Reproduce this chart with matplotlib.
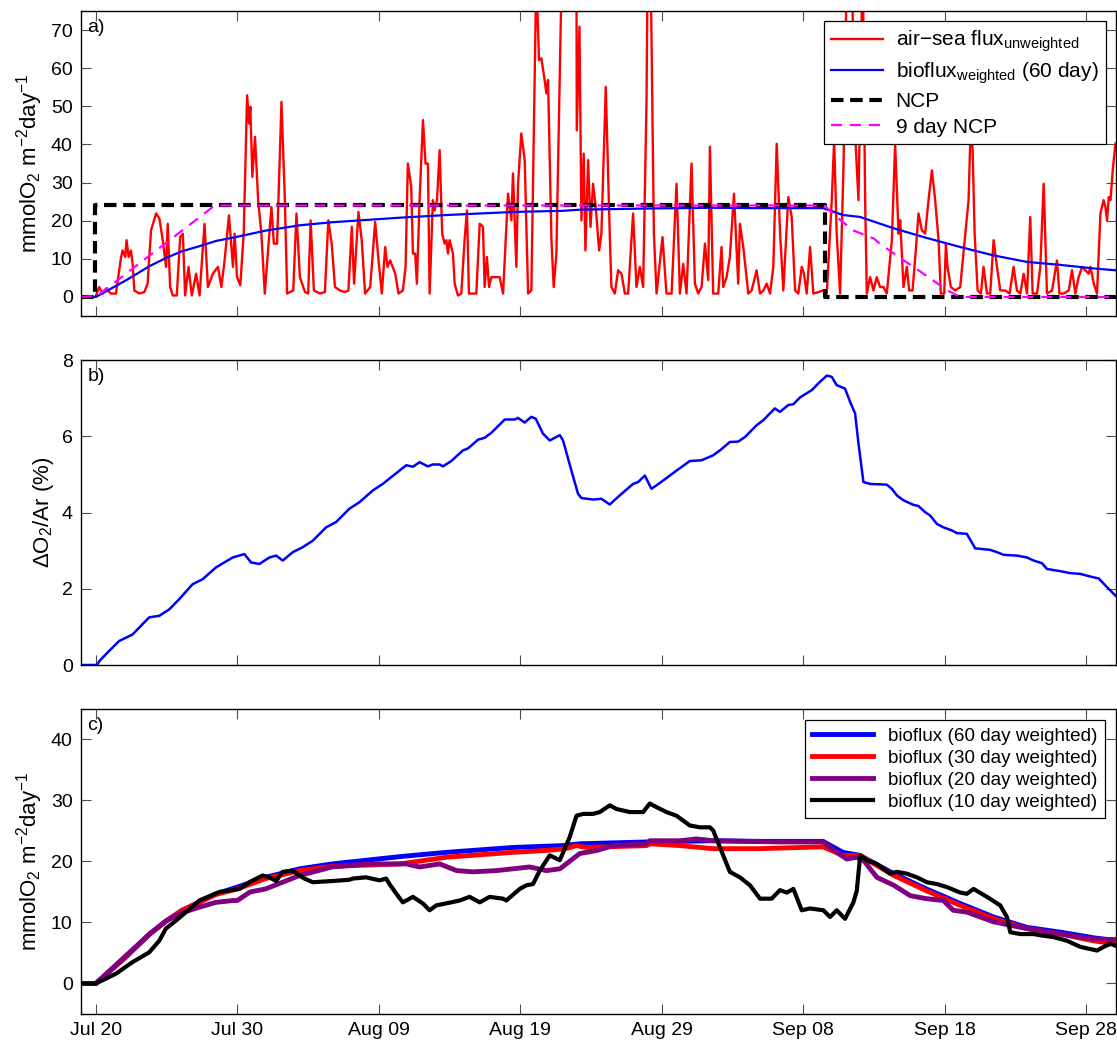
import numpy as np
import matplotlib
matplotlib.use('Agg')
import matplotlib.pyplot as plt

plt.rcParams['font.family'] = ['Liberation Sans', 'DejaVu Sans']
plt.rcParams['mathtext.fontset'] = 'custom'
plt.rcParams['mathtext.rm'] = 'Liberation Sans'
plt.rcParams['mathtext.it'] = 'Liberation Sans:italic'
plt.rcParams['mathtext.default'] = 'regular'
plt.rcParams['axes.unicode_minus'] = True

# days since Jul 20
tick_days = [0, 10, 20, 30, 40, 50, 60, 70]
tick_labels = ['Jul 20', 'Jul 30', 'Aug 09', 'Aug 19', 'Aug 29', 'Sep 08', 'Sep 18', 'Sep 28']
x_start, x_end = -1.05, 72.1

# a) air-sea flux (unweighted)
flux_day = [0.0, 0.24, 0.47, 0.71, 1.06, 1.42, 1.77, 1.89, 2.08, 2.17, 2.32, 2.48, 2.60, 2.72,
            3.07, 3.43, 3.66, 3.90, 4.26, 4.49, 4.73, 4.96, 5.08, 5.25, 5.44, 5.72, 5.96, 6.15,
            6.31, 6.55, 6.78, 7.09, 7.33, 7.68, 7.92, 8.27, 8.63, 8.87, 9.10, 9.41, 9.69, 9.81,
            9.98, 10.21, 10.45, 10.69, 10.83, 10.92, 11.06, 11.25, 11.47, 11.70, 11.94, 12.17,
            12.41, 12.58, 12.81, 13.12, 13.36, 13.52, 13.95, 14.18, 14.42, 14.78, 15.01, 15.18,
            15.41, 15.84, 16.19, 16.43, 16.67, 16.90, 17.26, 17.61, 17.85, 18.09, 18.25, 18.56,
            18.79, 19.03, 19.39, 19.74, 19.98, 20.21, 20.45, 20.61, 20.80, 21.16, 21.39,
            21.70, 21.89, 22.05, 22.29, 22.41, 22.57, 22.69, 22.88, 23.12, 23.30, 23.47, 23.59,
            23.82, 23.94, 24.11, 24.30, 24.48, 24.65, 24.77, 24.89, 25.00, 25.24, 25.36, 25.59,
            25.83, 26.06, 26.23, 26.37, 26.89, 27.13, 27.36, 27.48, 27.64, 27.79, 27.95, 28.19,
            28.54, 28.78, 29.13, 29.37, 29.48, 29.72, 29.84, 30.07, 30.31, 30.55, 30.78, 31.13,
            31.32, 31.49, 31.72, 31.84, 31.96, 32.20, 32.36, 32.55, 32.95, 33.49, 33.97, 33.99,
            34.18, 34.32, 34.48, 34.60, 34.79, 34.96, 35.14, 35.33, 35.57, 35.73, 36.04, 36.32,
            36.44, 36.68, 36.91, 37.15, 37.39, 37.62, 37.97, 38.21, 38.45, 38.68, 38.92, 38.99,
            39.20, 39.44, 39.63, 40.05, 40.33, 40.69, 41.04, 41.28, 41.51, 41.75, 42.10, 42.34,
            42.57, 42.81, 43.05, 43.28, 43.40, 43.63, 43.99, 44.22, 44.34, 44.58, 44.81, 44.93,
            45.10, 45.40, 45.52, 45.76, 46.11, 46.35, 46.70, 46.94, 47.18, 47.41, 47.65, 47.88,
            48.12, 48.36, 48.59, 48.94, 49.18, 49.42, 49.65, 49.89, 50.05, 50.24, 50.48, 50.71,
            51.07, 51.42, 51.66, 52.01, 52.18, 52.36, 52.60, 52.84, 53.12, 53.43, 53.66, 53.90,
            54.02, 54.20, 54.37, 54.49, 54.72, 54.96, 55.19, 55.43, 55.67, 55.90, 56.26, 56.49,
            56.73, 56.85, 57.08, 57.32, 57.48, 57.72, 57.95, 58.14, 58.38, 58.61, 58.85, 59.09,
            59.32, 59.56, 59.72, 59.96, 60.08, 60.19, 60.43, 60.74, 61.09, 61.45, 61.68, 61.80,
            61.96, 62.11, 62.32, 62.55, 62.74, 62.98, 63.21, 63.45, 63.69, 63.92, 64.28, 64.58,
            64.86, 65.10, 65.34, 65.57, 65.81, 66.04, 66.21, 66.52, 66.75, 66.99, 67.22, 67.58,
            67.93, 68.10, 68.40, 68.76, 68.99, 69.23, 69.46, 69.70, 69.94, 70.17, 70.29, 70.53,
            70.76, 71.00, 71.23, 71.35, 71.47, 71.59, 71.71, 71.89, 72.06]
flux_val = [0.3, 2.6, 0.9, 2.2, 0.9, 0.9, 10.1, 12.2, 10.5, 14.9, 10.5, 12.2, 8.7, 1.7,
            0.9, 1.3, 3.5, 17.5, 21.9, 20.6, 14.9, 7.9, 19.2, 2.6, 0.4, 0.4, 15.7, 16.6,
            0.4, 7.9, 0.4, 6.1, 0.4, 19.2, 2.6, 6.1, 7.9, 2.6, 9.6, 21.4, 7.9, 16.6,
            5.2, 3.1, 16.6, 52.9, 45.5, 49.9, 31.5, 42.0, 25.4, 16.6, 0.9, 12.2,
            23.6, 14.0, 14.0, 51.2, 25.4, 0.9, 1.7, 21.9, 5.2, 1.3, 0.9, 20.1,
            1.7, 0.9, 1.3, 20.1, 14.0, 2.6, 1.7, 1.3, 1.7, 18.4, 3.5, 22.3,
            14.9, 0.9, 2.6, 19.7, 9.6, 0.9, 13.1, 7.9, 9.6, 6.1, 0.9,
            1.7, 7.9, 35.0, 28.9, 11.4, 11.4, 3.5, 25.4, 46.4, 35.0, 35.0, 0.9,
            25.4, 22.7, 25.4, 38.5, 16.6, 14.0, 14.9, 11.4, 14.9, 11.4, 3.5, 0.4,
            0.9, 14.9, 22.7, 0.9, 0.9, 19.2, 18.4, 2.6, 10.5, 2.6, 5.2, 5.2,
            5.2, 0.9, 27.1, 20.1, 32.4, 7.9, 29.7, 42.9, 35.9, 0.9, 1.7, 85.0,
            62.1, 62.6, 56.9, 53.4, 56.9, 14.9, 2.6, 11.4, 90.0, 100.0, 85.0, 43.7,
            70.9, 20.1, 37.6, 12.2, 35.9, 18.4, 29.7, 23.6, 12.2, 16.6, 55.1, 16.6,
            2.6, 0.9, 7.0, 6.1, 0.9, 0.9, 21.9, 2.6, 7.9, 2.6, 51.6, 85.0,
            90.0, 16.6, 0.9, 15.7, 0.9, 0.9, 29.7, 0.9, 8.7, 0.9, 35.0, 3.5,
            0.9, 2.6, 14.0, 4.4, 39.4, 0.9, 0.9, 13.1, 2.6, 5.2, 10.5, 17.5,
            27.1, 3.5, 19.2, 13.1, 0.9, 1.7, 7.0, 0.9, 1.7, 3.5, 0.9, 7.9,
            40.2, 16.6, 1.7, 26.2, 21.0, 1.7, 0.9, 7.9, 6.1, 0.9, 13.1, 0.9,
            1.3, 1.7, 0.9, 25.4, 41.1, 16.6, 0.9, 34.1, 95.0, 85.0, 42.9, 25.4,
            51.6, 90.0, 25.4, 0.9, 5.2, 1.7, 5.2, 2.6, 2.6, 0.9, 14.9, 40.2,
            16.6, 20.1, 2.6, 7.9, 1.7, 1.7, 12.2, 21.9, 17.5, 16.6, 25.4, 33.2,
            25.4, 14.9, 0.9, 0.9, 14.0, 7.9, 2.6, 1.7, 2.6, 16.6, 25.4, 41.1,
            39.4, 16.6, 1.7, 0.9, 7.9, 0.9, 0.9, 14.9, 7.9, 1.7, 1.7, 0.9,
            7.9, 1.7, 0.9, 6.1, 0.9, 21.0, 0.9, 0.9, 7.9, 29.7, 0.9, 1.7,
            9.6, 0.9, 0.9, 1.7, 7.0, 0.9, 5.2, 7.9, 7.0, 6.1, 7.9, 3.5,
            0.9, 21.9, 25.4, 23.6, 20.1, 26.2, 25.4, 34.1, 40.2]

# bioflux, 60 day weighting (used in a and c)
bio60_day = [-1.05, 0.0, 2.1, 3.8, 5.0, 6.1, 7.3, 8.5, 10.0, 12.0, 14.4, 16.7, 19.1, 21.5,
             24.8, 29.5, 33.0, 34.2, 38.9, 43.6, 46.9, 51.4, 52.8, 54.0, 56.4, 58.7, 61.1,
             63.45, 65.8, 68.2, 70.5, 72.06]
bio60_val = [0, 0, 4.3, 8.1, 10.3, 12.0, 13.3, 14.7, 15.8, 17.4, 18.8, 19.6, 20.2, 20.8,
             21.5, 22.3, 22.6, 22.9, 23.2, 23.4, 23.3, 23.3, 21.5, 21.0, 18.0, 15.5, 13.1,
             10.9, 9.2, 8.4, 7.5, 7.0]

# NCP step and 9 day running NCP
ncp_day = [x_start, -0.07, -0.07, 51.54, 51.54, x_end]
ncp_val = [0, 0, 24, 24, 0, 0]
ncp9_day = [x_start, 0.1, 8.4, 51.5, 52.2, 53.5, 55.0, 55.4, 57.1, 58.3, 60.2, 61.1, x_end]
ncp9_val = [0, 0.3, 24, 24, 21.5, 17.5, 15.3, 14.0, 9.6, 6.6, 1.7, 0, 0]

# b) delta O2/Ar
o2ar_day = [x_start, 0.1, 0.24, 0.94, 1.65, 2.59, 3.77, 4.48, 5.19, 5.9, 6.84, 7.55, 8.49, 9.67,
            10.5, 10.97, 11.56, 12.26, 12.74, 13.21, 13.92, 14.62, 15.33, 16.27, 16.98, 17.92,
            18.63, 19.58, 20.28, 21.46, 21.94, 22.41, 22.88, 23.47, 23.82, 24.3, 24.53, 25.12,
            25.95, 26.3, 27.01, 27.48, 27.95, 28.9, 29.6, 29.84, 30.31, 30.78, 31.09, 31.6,
            32.08, 32.79, 33.02, 33.61, 34.08, 34.32, 35.14, 35.73, 36.32, 37.03, 37.97, 38.33,
            38.8, 39.27, 40.1, 41.04, 41.98, 42.81, 43.63, 44.11, 44.81, 45.4, 45.88, 46.7,
            47.17, 47.99, 48.35, 48.94, 49.3, 49.77, 50.6, 51.07, 51.66, 52.01, 52.36, 52.95,
            53.31, 53.66, 53.9, 54.25, 54.72, 55.9, 56.26, 56.61, 57.08, 57.79, 58.14, 58.61,
            58.97, 59.44, 59.91, 60.5, 60.85, 61.56, 62.15, 63.21, 63.69, 64.16, 65.1, 65.81,
            66.28, 66.87, 67.22, 68.17, 68.87, 69.58, 70.29, 70.88, 71.47, 72.06]
o2ar_val = [0, 0, 0.1, 0.37, 0.63, 0.8, 1.25, 1.29, 1.46, 1.73, 2.12, 2.25, 2.56, 2.82,
            2.91, 2.69, 2.65, 2.82, 2.87, 2.74, 2.96, 3.09, 3.26, 3.61, 3.75, 4.10,
            4.27, 4.58, 4.75, 5.1, 5.24, 5.2, 5.32, 5.21, 5.26, 5.26, 5.21, 5.35,
            5.63, 5.68, 5.91, 5.96, 6.09, 6.44, 6.44, 6.48, 6.36, 6.51, 6.46, 6.07,
            5.89, 6.03, 5.89, 5.1, 4.49, 4.38, 4.34, 4.36, 4.21, 4.45, 4.75, 4.80,
            4.97, 4.62, 4.84, 5.1, 5.35, 5.37, 5.5, 5.63, 5.85, 5.86, 5.98, 6.29,
            6.42, 6.73, 6.64, 6.82, 6.84, 7.02, 7.21, 7.39, 7.59, 7.56, 7.34, 7.25,
            6.9, 6.6, 5.81, 4.80, 4.75, 4.73, 4.62, 4.45, 4.32, 4.20, 4.17, 4.01,
            3.92, 3.70, 3.61, 3.53, 3.46, 3.44, 3.06, 3.02, 2.96, 2.89, 2.87, 2.82,
            2.74, 2.67, 2.52, 2.46, 2.41, 2.39, 2.32, 2.27, 2.04, 1.82]

# c) bioflux with 30, 20 and 10 day weighting
bio30_day = [x_start, 0.0, 2.1, 3.8, 5.0, 6.1, 7.3, 8.5, 10.0, 12.0, 14.4, 16.7, 19.1, 21.5,
             24.8, 29.5, 31.8, 33.2, 33.95, 34.7, 38.9, 39.2, 41.3, 43.6, 46.9, 51.4, 52.8,
             54.0, 56.4, 58.7, 61.1, 63.45, 65.8, 68.2, 70.5, 72.06]
bio30_val = [0, 0, 4.3, 8.1, 10.3, 12.0, 13.3, 14.6, 15.5, 17.2, 18.5, 19.2, 19.4, 19.6,
             20.7, 21.5, 21.8, 22.1, 22.6, 22.3, 22.6, 22.9, 22.6, 22.1, 22.1, 22.4, 21.0,
             21.0, 17.7, 15.2, 12.8, 10.6, 9.0, 8.1, 7.0, 6.5]

bio20_day = [x_start, 0.0, 2.1, 3.8, 5.0, 6.1, 7.3, 8.5, 9.7, 10.0, 10.9, 12.0, 13.2, 14.4,
             16.7, 19.1, 21.46, 21.94, 22.88, 24.3, 25.5, 26.65, 28.3, 30.66, 31.84, 32.8,
             34.2, 35.4, 36.56, 38.9, 39.15, 41.3, 42.45, 43.6, 48.35, 51.42, 52.36, 53.07,
             53.78, 54.25, 55.2, 56.4, 57.55, 58.7, 59.9, 60.6, 61.56, 63.45, 65.8, 68.2,
             70.5, 72.06]
bio20_val = [0, 0, 4.5, 8.1, 10.3, 11.6, 12.5, 13.3, 13.6, 13.6, 15.0, 15.5, 16.6, 17.7,
             19.1, 19.6, 19.6, 19.6, 19.1, 19.6, 18.5, 18.3, 18.5, 19.1, 18.5, 18.8,
             21.3, 21.8, 22.6, 22.9, 23.4, 23.4, 23.7, 23.4, 23.2, 23.2, 21.5, 20.4,
             20.7, 20.2, 17.4, 16.1, 14.4, 13.9, 13.6, 12.0, 11.7, 10.1, 9.0, 8.1,
             7.3, 7.2]

bio10_day = [x_start, 0.0, 1.42, 2.59, 3.77, 4.48, 4.95, 5.66, 6.37, 7.31, 8.73, 10.14, 10.85,
             11.79, 12.26, 12.74, 13.21, 13.92, 14.39, 14.74, 15.33, 16.75, 17.92, 18.16, 19.1,
             20.05, 20.52, 20.75, 21.46, 21.7, 22.41, 23.12, 23.59, 24.06, 25.12, 25.71, 26.42,
             27.13, 27.83, 28.78, 29.01, 29.96, 30.43, 30.9, 31.37, 32.08, 32.79, 33.49, 33.97,
             34.44, 35.14, 35.62, 36.32, 36.8, 37.74, 38.68, 39.15, 39.63, 40.33, 41.04, 41.98,
             42.69, 43.4, 43.63, 44.11, 44.81, 45.52, 46.23, 46.94, 47.76, 48.35, 48.83, 49.3,
             49.89, 50.48, 51.42, 51.89, 52.36, 52.95, 53.54, 53.78, 54.02, 54.49, 55.19, 56.14,
             56.61, 57.32, 58.03, 58.73, 59.44, 60.15, 61.09, 61.56, 62.03, 62.98, 63.92, 64.39,
             64.63, 65.34, 66.28, 66.75, 67.69, 68.64, 69.58, 70.76, 71.23, 71.71, 72.06]
bio10_val = [0, 0, 1.6, 3.5, 5.1, 7.0, 9.0, 10.3, 11.7, 13.6, 15.0, 15.5, 16.6,
             17.7, 17.4, 16.8, 18.3, 18.5, 17.7, 17.2, 16.6, 16.8, 17.0, 17.2, 17.4,
             16.9, 17.2, 16.3, 14.0, 13.3, 14.2, 13.1, 12.0, 12.8, 13.3, 13.6, 14.2,
             13.3, 14.2, 13.9, 13.6, 15.5, 16.1, 16.3, 18.5, 21.0, 20.2, 24.0, 27.5,
             27.8, 27.8, 28.1, 29.2, 28.6, 28.1, 28.1, 29.5, 28.9, 28.1, 27.5, 25.9,
             25.6, 25.6, 25.1, 22.3, 18.3, 17.4, 16.1, 13.9, 13.9, 15.3, 14.9, 15.5,
             12.0, 12.3, 12.0, 10.9, 12.0, 10.6, 13.3, 15.2, 21.0, 20.2, 19.6, 18.0,
             18.3, 18.0, 17.4, 16.6, 16.3, 15.8, 14.9, 14.7, 15.5, 14.2, 12.8, 10.9,
             8.4, 8.1, 8.1, 7.9, 7.6, 7.0, 6.0, 5.4, 6.0, 6.5, 6.2]

fig = plt.figure(figsize=(11.17, 10.42), dpi=100)
left, width, height = 0.0725, 0.9266, 0.2927
ax_a = fig.add_axes([left, 0.6967, width, height])
ax_b = fig.add_axes([left, 0.3618, width, height])
ax_c = fig.add_axes([left, 0.0269, width, height])

ylab = 'mmolO$_2$ m$^{-2}$day$^{-1}$'

for ax in (ax_a, ax_b, ax_c):
    ax.set_xlim(x_start, x_end)
    ax.set_xticks(tick_days)
    ax.tick_params(direction='in', length=7, width=0.8, color='0.3', labelsize=14,
                   top=True, right=True, pad=6)
    for s in ax.spines.values():
        s.set_linewidth(1.0)

# panel a
ax_a.plot(flux_day, flux_val, color='red', lw=1.7, label='air\u2212sea flux$_{unweighted}$')
ax_a.plot(bio60_day, bio60_val, color='blue', lw=1.6, label='bioflux$_{weighted}$ (60 day)')
ax_a.plot(ncp_day, ncp_val, color='black', lw=3.0, dashes=(3, 1.6), label='NCP')
ax_a.plot(ncp9_day, ncp9_val, color='magenta', lw=1.6, dashes=(5, 3.5), label='9 day NCP')
ax_a.set_ylim(-5, 75)
ax_a.set_yticks(range(0, 71, 10))
ax_a.set_xticklabels([])
ax_a.set_ylabel(ylab, fontsize=16)
ax_a.text(0.006, 0.975, 'a)', transform=ax_a.transAxes, va='top', ha='left', fontsize=14)
leg = ax_a.legend(loc='upper right', fontsize=15, handlelength=2.5, fancybox=False,
                  framealpha=1, edgecolor='black', borderaxespad=0.5, labelspacing=0.3,
                  borderpad=0.35, handletextpad=0.6)
leg.get_frame().set_linewidth(0.9)

# panel b
ax_b.plot(o2ar_day, o2ar_val, color='blue', lw=1.8)
ax_b.set_ylim(0, 8)
ax_b.set_yticks([0, 2, 4, 6, 8])
ax_b.set_xticklabels([])
ax_b.set_ylabel('\u0394O$_2$/Ar (%)', fontsize=16)
ax_b.text(0.006, 0.975, 'b)', transform=ax_b.transAxes, va='top', ha='left', fontsize=14)

# panel c
ax_c.plot(bio60_day, bio60_val, color='blue', lw=3.5, label='bioflux (60 day weighted)')
ax_c.plot(bio30_day, bio30_val, color='red', lw=3.5, label='bioflux (30 day weighted)')
ax_c.plot(bio20_day, bio20_val, color='purple', lw=3.5, label='bioflux (20 day weighted)')
ax_c.plot(bio10_day, bio10_val, color='black', lw=3.0, label='bioflux (10 day weighted)')
ax_c.set_ylim(-5, 45)
ax_c.set_yticks([0, 10, 20, 30, 40])
ax_c.set_xticklabels(tick_labels)
ax_c.set_ylabel(ylab, fontsize=16)
ax_c.text(0.006, 0.975, 'c)', transform=ax_c.transAxes, va='top', ha='left', fontsize=14)
leg = ax_c.legend(loc='upper right', fontsize=13.6, handlelength=3.2, fancybox=False,
                  framealpha=1, edgecolor='black', borderaxespad=0.6, labelspacing=0.25)
leg.get_frame().set_linewidth(0.9)

fig.savefig('out.png', dpi=100)
